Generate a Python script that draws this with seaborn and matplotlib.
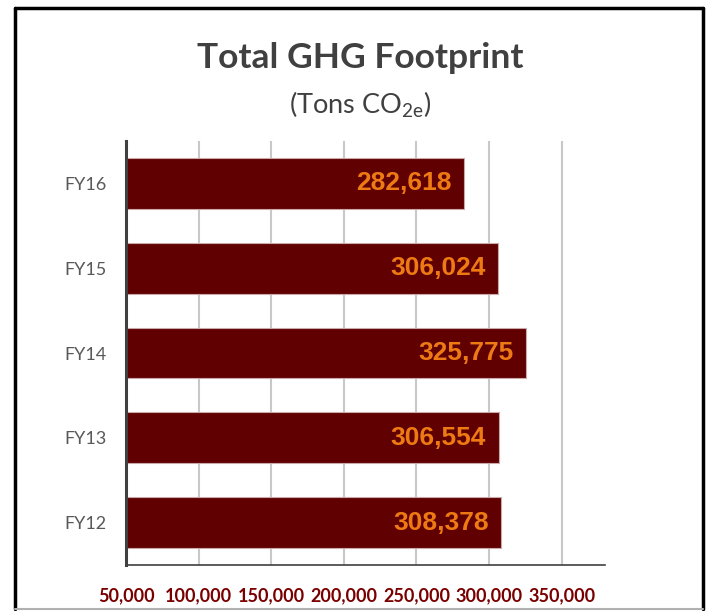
"""
total GHG footprint bar chart
"""

import numpy as np
import pandas as pd
import seaborn as sns
import matplotlib.pyplot as plt
from matplotlib.lines import Line2D


# data
years = ["FY16", "FY15", "FY14", "FY13", "FY12"]
footprint = [282618, 306024, 325775, 306554, 308378]
x_ticks = [50000, 100000, 150000, 200000, 250000, 300000, 350000]
x_tick_labels = ["50,000", "100,000", "150,000", "200,000", "250,000", "300,000", "350,000"]

df = pd.DataFrame({"year": years, "tons": footprint})

# configurations
sns.set_style("white")
plt.rcParams["font.family"] = ["Lato", "DejaVu Sans"]
plt.rcParams["mathtext.fontset"] = "custom"
plt.rcParams["mathtext.rm"] = "Lato"
plt.rcParams["mathtext.it"] = "Lato"

bar_color = "#600000"
label_color = "#ee7a14"
tick_red = "#7a0000"
text_gray = "#404040"

# instantiate
fig = plt.figure(figsize=(7.11, 6.11), dpi=100)
ax = fig.add_axes([0.1772, 0.0753, 0.674, 0.6939])

# plot data
sns.barplot(data=df, x="tons", y="year", orient="h", color=bar_color,
            saturation=1, width=0.6, edgecolor="#c9a9a9", linewidth=0.8, ax=ax)

# value labels, right-aligned just inside the bar end
for i, v in enumerate(footprint):
    ax.annotate(f"{v:,}", xy=(v, i), xytext=(-9, 0), textcoords="offset points",
                ha="right", va="center", color=label_color, fontsize=19,
                fontweight="bold", family=["Liberation Sans", "DejaVu Sans"])

# polishing
ax.set_xlim(50000, 380000)
ax.set_ylim(4.5, -0.5)
ax.set_xticks(x_ticks)
ax.set_xticklabels(x_tick_labels, color=tick_red, fontweight="bold", fontsize=13)
ax.tick_params(axis="x", length=0, pad=16)
ax.tick_params(axis="y", length=0, pad=14, labelcolor="#595959", labelsize=13)
ax.set_xlabel("")
ax.set_ylabel("")
ax.grid(axis="x", color="#c8c8c8", linewidth=1.5)
ax.set_axisbelow(True)
for side in ["top", "right"]:
    ax.spines[side].set_visible(False)
ax.spines["left"].set_color(text_gray)
ax.spines["left"].set_linewidth(2.2)
ax.spines["bottom"].set_color(text_gray)
ax.spines["bottom"].set_linewidth(1.2)

# titles
fig.text(0.506, 0.905, "Total GHG Footprint", ha="center", va="center",
         fontsize=25.5, fontweight="bold", color=text_gray)
fig.text(0.506, 0.828, "(Tons CO$_{2e}$)", ha="center", va="center",
         fontsize=19.5, color=text_gray)

# frame
W, H = 711, 611
fx = lambda px: px / W
fy = lambda py: 1 - py / H
fig.add_artist(Line2D([fx(15), fx(703)], [fy(8), fy(8)], color="black", linewidth=2.5))
fig.add_artist(Line2D([fx(15), fx(15)], [fy(8), fy(609)], color="black", linewidth=2.5))
fig.add_artist(Line2D([fx(703), fx(703)], [fy(8), fy(609)], color="black", linewidth=2.5))
fig.add_artist(Line2D([fx(15), fx(703)], [fy(609), fy(609)], color="#b0b0b0", linewidth=1.5))

plt.savefig("out.png", dpi=100)
